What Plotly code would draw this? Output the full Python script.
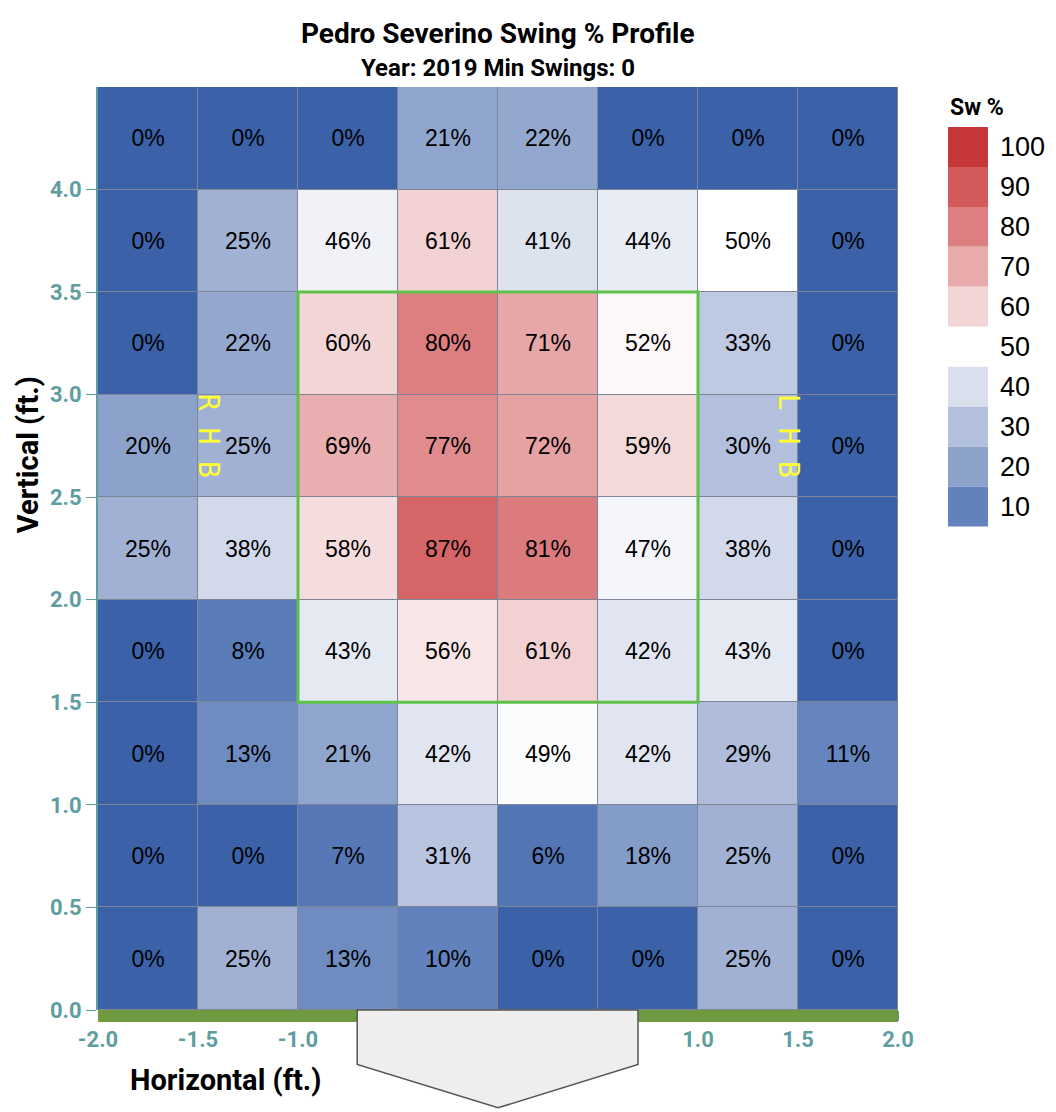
import plotly.graph_objects as go
import plotly.colors as pc

# cell centres (ft.)
x_centers = [-1.75, -1.25, -0.75, -0.25, 0.25, 0.75, 1.25, 1.75]
y_centers = [0.25, 0.75, 1.25, 1.75, 2.25, 2.75, 3.25, 3.75, 4.25]

# swing % per zone, bottom row first
swing_pct = [
    [0, 25, 13, 10, 0, 0, 25, 0],
    [0, 0, 7, 31, 6, 18, 25, 0],
    [0, 13, 21, 42, 49, 42, 29, 11],
    [0, 8, 43, 56, 61, 42, 43, 0],
    [25, 38, 58, 87, 81, 47, 38, 0],
    [20, 25, 69, 77, 72, 59, 30, 0],
    [0, 22, 60, 80, 71, 52, 33, 0],
    [0, 25, 46, 61, 41, 44, 50, 0],
    [0, 0, 0, 21, 22, 0, 0, 0],
]

legend_levels = [100, 90, 80, 70, 60, 50, 40, 30, 20, 10]
tick_vals_x = [-2.0, -1.5, -1.0, -0.5, 0.0, 0.5, 1.0, 1.5, 2.0]
tick_vals_y = [0.0, 0.5, 1.0, 1.5, 2.0, 2.5, 3.0, 3.5, 4.0]

colorscale = [
    [0.0, "#3b62a8"], [0.1, "#6282bd"], [0.2, "#8ca2cb"], [0.3, "#b3c0dd"],
    [0.4, "#d9dfed"], [0.5, "#ffffff"], [0.6, "#f3d5d6"], [0.7, "#e8aaab"],
    [0.8, "#dd7f81"], [0.9, "#d35a5c"], [1.0, "#c83737"],
]
teal = "#5f9ea0"
cond = "Roboto, sans-serif"
body = "Liberation Sans, Arial, sans-serif"

text = [[f"{v}%" for v in row] for row in swing_pct]

fig = go.Figure(go.Heatmap(
    x=x_centers, y=y_centers, z=swing_pct,
    zmin=0, zmax=100, colorscale=colorscale, showscale=False,
    text=text, texttemplate="%{text}", textfont=dict(size=23, color="black", family=body),
    xgap=1, ygap=1, hoverinfo="skip",
))

shapes = []
# strike zone
shapes.append(dict(type="rect", xref="x", yref="y", x0=-1, x1=1, y0=1.5, y1=3.5,
                   line=dict(color="#5ec24a", width=3), fillcolor="rgba(0,0,0,0)"))
# ground band
shapes.append(dict(type="rect", xref="paper", yref="paper", x0=0, x1=1, y0=-0.013, y1=0,
                   line=dict(width=0), fillcolor="#6f9a40"))
# home plate
shapes.append(dict(type="path", xref="paper", yref="paper",
                   path="M 0.324 0 L 0.675 0 L 0.675 -0.059 L 0.5 -0.106 L 0.324 -0.059 Z",
                   fillcolor="#eeeeee", line=dict(color="#555555", width=1.5)))

# legend blocks (paper coords, outside plot)
legend_cols = pc.sample_colorscale(colorscale, [v / 100 for v in legend_levels])
annotations = []
top = 0.9567
step = 0.0433
for i, (lvl, col) in enumerate(zip(legend_levels, legend_cols)):
    y1 = top - i * step
    y0 = y1 - step
    shapes.append(dict(type="rect", xref="paper", yref="paper", x0=1.0625, x1=1.1125,
                       y0=y0, y1=y1, line=dict(width=0), fillcolor=col))
    annotations.append(dict(xref="paper", yref="paper", x=1.1255, y=(y0 + y1) / 2,
                            text=str(lvl), showarrow=False, xanchor="left", yanchor="middle",
                            font=dict(size=27, color="black", family=body)))
annotations.append(dict(xref="paper", yref="paper", x=1.0625, y=0.978, text="<b>Sw %</b>",
                        showarrow=False, xanchor="left", yanchor="middle",
                        font=dict(size=23, color="black", family=cond)))

annotations += [
    dict(xref="paper", yref="paper", x=0.5, y=1.0, yshift=54, text="<b>Pedro Severino Swing % Profile</b>",
         showarrow=False, xanchor="center", yanchor="middle", font=dict(size=28, color="black", family=cond)),
    dict(xref="paper", yref="paper", x=0.5, y=1.0, yshift=19, text="<b>Year: 2019 Min Swings: 0</b>",
         showarrow=False, xanchor="center", yanchor="middle", font=dict(size=24, color="black", family=cond)),
    dict(xref="paper", yref="paper", x=0.159, y=0, yshift=-70, text="<b>Horizontal (ft.)</b>",
         showarrow=False, xanchor="center", yanchor="middle", font=dict(size=29, color="black", family=cond)),
    dict(xref="paper", yref="paper", x=0, xshift=-70, y=0.601, text="<b>Vertical (ft.)</b>", textangle=-90,
         showarrow=False, xanchor="center", yanchor="middle", font=dict(size=29, color="black", family=cond)),
    dict(xref="x", yref="y", x=-1.45, y=2.8, text="R H B", textangle=90, showarrow=False,
         font=dict(size=28, color="#ffff33", family="DejaVu Sans Mono, monospace")),
    dict(xref="x", yref="y", x=1.45, y=2.8, text="L H B", textangle=90, showarrow=False,
         font=dict(size=28, color="#ffff33", family="DejaVu Sans Mono, monospace")),
]

fig.update_layout(
    width=1048, height=1104,
    margin=dict(l=90, r=158, t=79, b=102),
    paper_bgcolor="white", plot_bgcolor="#7d8596",
    shapes=shapes, annotations=annotations, showlegend=False,
)
fig.update_xaxes(range=[-2, 2], tickvals=tick_vals_x, ticktext=[f"<b>{v:.1f}</b>" for v in tick_vals_x],
                 ticks="outside", ticklen=10, automargin=False,
                 tickcolor=teal, tickfont=dict(size=22, color=teal, family=cond),
                 showgrid=False, zeroline=False, showline=False)
fig.update_yaxes(range=[0, 4.5], tickvals=tick_vals_y, ticktext=[f"<b>{v:.1f}</b>" for v in tick_vals_y],
                 ticks="outside", ticklen=10, automargin=False,
                 tickcolor=teal, tickfont=dict(size=22, color=teal, family=cond),
                 showgrid=False, zeroline=False, showline=True, linecolor=teal, linewidth=2)

fig.write_html("out.html")
